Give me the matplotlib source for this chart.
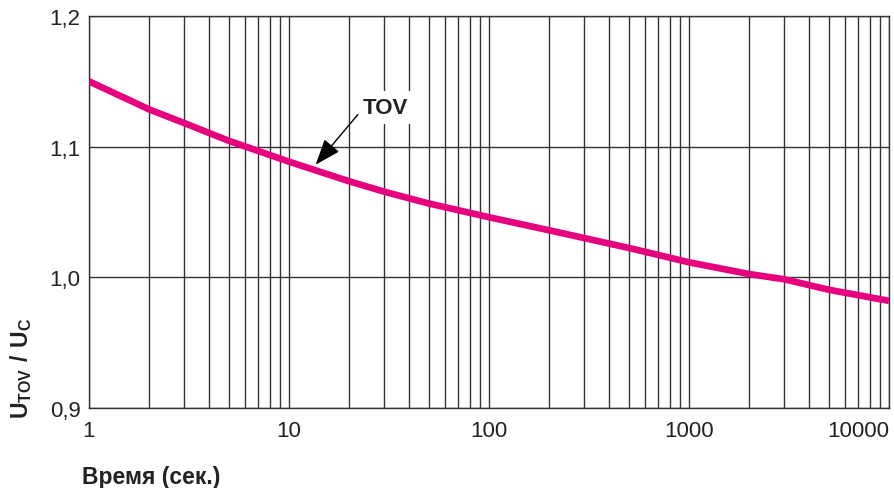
import matplotlib.pyplot as plt
import numpy as np

plt.rcParams['font.family'] = ['Liberation Sans', 'DejaVu Sans']
plt.rcParams['mathtext.fontset'] = 'custom'
plt.rcParams['mathtext.rm'] = 'Liberation Sans'
plt.rcParams['mathtext.bf'] = 'Liberation Sans:bold'

# data
time_s = [1, 2, 3, 5, 10, 20, 30, 50, 100, 200, 300, 500, 1000, 2000, 3000, 5000, 10000]
u_ratio = [1.150, 1.1285, 1.118, 1.1045, 1.0885, 1.0735, 1.0655, 1.0565, 1.046,
           1.036, 1.030, 1.0225, 1.0115, 1.0025, 0.9985, 0.9905, 0.982]

x_ticks = [1, 10, 100, 1000, 10000]
x_ticklabels = ['1', '10', '100', '1000', '10000']
y_ticks = [0.9, 1.0, 1.1, 1.2]
y_ticklabels = ['0,9', '1,0', '1,1', '1,2']

grid_col = '#333333'
line_col = '#e6007e'

fig = plt.figure(figsize=(8.94, 4.89), dpi=100)
ax = fig.add_axes([89/894, 1-409/489, 800/894, 392/489])

ax.set_xscale('log')
ax.plot(time_s, u_ratio, color=line_col, lw=4.8, solid_capstyle='butt',
        solid_joinstyle='round', zorder=3)

ax.set_xlim(1, 10000)
ax.set_ylim(0.9, 1.2)

ax.set_xticks(x_ticks)
ax.set_xticklabels(x_ticklabels)
ax.set_xticks([m*10**d for d in range(4) for m in range(2, 10)], minor=True)
ax.set_yticks(y_ticks)
ax.set_yticklabels(y_ticklabels)
ax.xaxis.set_minor_formatter(plt.NullFormatter())
ax.tick_params(axis='both', which='both', length=0, labelsize=16, colors='#222222')
ax.tick_params(axis='x', pad=9)
ax.tick_params(axis='y', pad=6)
ax.get_xticklabels()[-1].set_horizontalalignment('right')

ax.grid(True, which='both', axis='x', color=grid_col, lw=1.0)
ax.grid(True, which='major', axis='y', color=grid_col, lw=1.0)
for s in ax.spines.values():
    s.set_color(grid_col)
    s.set_linewidth(1.0)

# TOV label and arrow
ax.text(30.2, 1.130, 'TOV', fontsize=16, fontweight='bold', color='#222222',
        ha='center', va='center', zorder=4,
        bbox=dict(facecolor='white', edgecolor='none', pad=4))
ax.annotate('', xy=(13.6, 1.0862), xytext=(22.1, 1.1246),
            arrowprops=dict(arrowstyle='-|>,head_length=0.8,head_width=0.3',
                            color='black', lw=1.0,
                            mutation_scale=20, shrinkA=0, shrinkB=0),
            zorder=5)

fig.text(0.024, 1-368/489, r'$\mathbf{U_{TOV}\ /\ U_C}$', fontsize=16.5,
         rotation=90, ha='center', va='center', color='#222222')
fig.text(82/894, 1-484/489, 'Время (сек.)', fontsize=16.5, fontweight='bold',
         ha='left', va='baseline', color='#222222')

fig.savefig('out.png', dpi=100)
